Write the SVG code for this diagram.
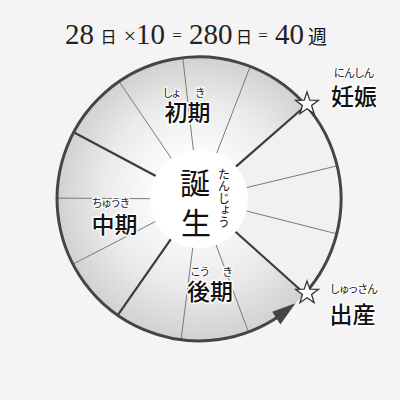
<svg xmlns="http://www.w3.org/2000/svg" width="400" height="400" viewBox="0 0 400 400">
<defs>
<radialGradient id="g" gradientUnits="userSpaceOnUse" cx="199" cy="199" r="142" fx="190" fy="185">
<stop offset="0.3" stop-color="#fafafa"/>
<stop offset="0.65" stop-color="#ebebeb"/>
<stop offset="1" stop-color="#d1d1d1"/>
</radialGradient>
<polygon id="star" points="0,-12 2.8,-3.9 11.4,-3.7 4.6,1.5 7.1,9.7 0,4.8 -7.1,9.7 -4.6,1.5 -11.4,-3.7 -2.8,-3.9"/>
</defs>
<style>
.num{font-family:"Liberation Serif","Times New Roman",serif;fill:#222}
.jp{font-family:"Noto Sans CJK JP",sans-serif;fill:#111}
.lbl{font-family:"Noto Sans CJK JP",sans-serif;fill:#111;font-size:23px;font-weight:500;text-anchor:middle;stroke:#fff;stroke-width:3;stroke-linejoin:round;paint-order:stroke}
.rb{font-family:"Noto Sans CJK JP",sans-serif;fill:#1a1a1a;font-size:11px;text-anchor:middle;font-feature-settings:"palt";stroke:#fff;stroke-width:2.5;stroke-linejoin:round;paint-order:stroke}
.thin{stroke:#7a7a7a;stroke-width:1;fill:none}
.thick{stroke:#3c3c3c;stroke-width:2.2;fill:none}
.st{fill:#fff;stroke:#333;stroke-width:1.3;stroke-linejoin:miter}
</style>
<rect width="400" height="400" fill="#f4f4f4"/>

<g id="title">
<text class="num" x="65" y="44" font-size="29">28</text>
<text class="jp" x="108.5" y="43" font-size="16" text-anchor="middle">日</text>
<text class="num" x="130" y="43" font-size="22" text-anchor="middle">×</text>
<text class="num" x="136" y="44" font-size="29">10</text>
<text class="num" x="177" y="41" font-size="17" text-anchor="middle">=</text>
<text class="num" x="189" y="44" font-size="29">280</text>
<text class="jp" x="244" y="43" font-size="16" text-anchor="middle">日</text>
<text class="num" x="263" y="41" font-size="17" text-anchor="middle">=</text>
<text class="num" x="275" y="44" font-size="29">40</text>
<text class="jp" x="317.5" y="43.5" font-size="19" text-anchor="middle">週</text>
</g>

<g id="wheel">
<path d="M199,199 L305.9,105.5 A142,142 0 0 1 304.7,293.8 Z" fill="#f1f1f1"/>
<path d="M199,199 L304.7,293.8 A142,142 0 1 1 305.9,105.5 Z" fill="url(#g)"/>
</g>

<g id="connectors">
<line class="thin" x1="246.5" y1="211.0" x2="336.7" y2="233.8"/>
<line class="thick" x1="235.5" y1="231.7" x2="304.7" y2="293.8"/>
<line class="thin" x1="216.1" y1="244.9" x2="248.5" y2="332.1"/>
<line class="thin" x1="192.8" y1="247.6" x2="181.0" y2="339.9"/>
<line class="thick" x1="170.9" y1="239.2" x2="117.6" y2="315.4"/>
<line class="thin" x1="155.5" y1="221.5" x2="72.9" y2="264.2"/>
<line class="thin" x1="150.0" y1="198.7" x2="57.0" y2="198.1"/>
<line class="thick" x1="155.8" y1="176.0" x2="73.7" y2="132.2"/>
<line class="thin" x1="171.4" y1="158.5" x2="119.1" y2="81.6"/>
<line class="thin" x1="193.4" y1="150.3" x2="182.8" y2="57.9"/>
<line class="thin" x1="216.7" y1="153.3" x2="250.2" y2="66.5"/>
<line class="thick" x1="235.9" y1="166.7" x2="305.9" y2="105.5"/>
<line class="thin" x1="246.6" y1="187.6" x2="337.1" y2="165.9"/>
<path d="M280.4,315.3 A142,142 0 1 1 304.7,293.8" fill="none" stroke="#454545" stroke-width="3"/>
<polygon points="295.5,303.3 280.4,324.4 272.2,311.8" fill="#444"/>
</g>

<g id="center">
<circle cx="199" cy="199" r="49" fill="#fff"/>
<text class="jp" x="195" y="194" font-size="30" text-anchor="middle">誕</text>
<text class="jp" x="196" y="234" font-size="30" text-anchor="middle">生</text>
<text class="jp" x="224" y="168" font-size="12" style="writing-mode:vertical-rl" fill="#222">たんじょう</text>
</g>

<g id="shoki">
<text class="rb" x="171.5" y="97">しょ</text>
<text class="rb" x="200" y="97">き</text>
<text class="lbl" x="187.5" y="121">初期</text>
</g>

<g id="chuki">
<text class="rb" x="111" y="207">ちゅうき</text>
<text class="lbl" x="114.5" y="233">中期</text>
</g>

<g id="koki">
<text class="rb" x="200" y="275.5">こう</text>
<text class="rb" x="227.5" y="275.5">き</text>
<text class="lbl" x="210" y="300">後期</text>
</g>

<g id="ninshin">
<use href="#star" class="st" x="307" y="104"/>
<text class="rb" x="354" y="77">にんしん</text>
<text class="lbl" x="354" y="105" font-size="24">妊娠</text>
</g>

<g id="shussan">
<use href="#star" class="st" x="307" y="293"/>
<text class="rb" x="354" y="292.5">しゅっさん</text>
<text class="lbl" x="352.5" y="323" font-size="24">出産</text>
</g>
</svg>
